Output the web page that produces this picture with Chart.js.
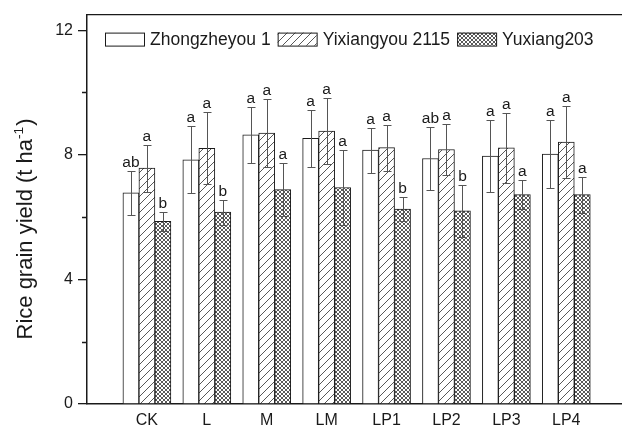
<!DOCTYPE html>
<html>
<head>
<meta charset="utf-8">
<script src="https://cdn.jsdelivr.net/npm/chart.js@4/dist/chart.umd.min.js"></script>
<style>
  html, body { margin: 0; padding: 0; background: #fff; }
  #wrap { width: 622px; height: 429px; }
</style>
</head>
<body>
<div id="wrap"><canvas id="c" width="622" height="429"></canvas></div>
<script>
// Treatments and cultivar yields (t ha-1), mean and standard deviation
const categories = ['CK', 'L', 'M', 'LM', 'LP1', 'LP2', 'LP3', 'LP4'];
const seriesNames = ['Zhongzheyou 1', 'Yixiangyou 2115', 'Yuxiang203'];

const zhongzheyou = [6.78, 7.84, 8.64, 8.53, 8.15, 7.88, 7.96, 8.02];
const zhongzheyouSd = [0.70, 1.07, 0.89, 0.91, 0.72, 1.00, 1.15, 1.10];
const zhongzheyouLetters = ['ab', 'a', 'a', 'a', 'a', 'ab', 'a', 'a'];

const yixiangyou = [7.57, 8.21, 8.70, 8.76, 8.23, 8.17, 8.22, 8.41];
const yixiangyouSd = [0.76, 1.15, 1.10, 1.06, 0.74, 0.82, 1.12, 1.15];
const yixiangyouLetters = ['a', 'a', 'a', 'a', 'a', 'a', 'a', 'a'];

const yuxiang = [5.86, 6.16, 6.88, 6.95, 6.26, 6.20, 6.72, 6.72];
const yuxiangSd = [0.31, 0.40, 0.86, 1.20, 0.37, 0.84, 0.46, 0.58];
const yuxiangLetters = ['b', 'b', 'a', 'a', 'b', 'b', 'a', 'a'];

const yTicks = [0, 4, 8, 12];
const yMinorTicks = [2, 6, 10];

const FONT = '"Liberation Sans", Arial, Helvetica, sans-serif';
const INK = '#1a1a1a';

const canvas = document.getElementById('c');
const ctx = canvas.getContext('2d');

// Fill patterns: plain, diagonal hatch, fine cross-hatch
function hatchPattern() {
  const t = document.createElement('canvas');
  t.width = 8; t.height = 8;
  const g = t.getContext('2d');
  g.fillStyle = '#fff'; g.fillRect(0, 0, 8, 8);
  g.strokeStyle = '#3a3a3a'; g.lineWidth = 0.85;
  g.beginPath();
  g.moveTo(-1, 9); g.lineTo(9, -1);
  g.moveTo(-1, 1); g.lineTo(1, -1);
  g.moveTo(7, 9); g.lineTo(9, 7);
  g.stroke();
  return ctx.createPattern(t, 'repeat');
}
function crossPattern() {
  const t = document.createElement('canvas');
  t.width = 4; t.height = 4;
  const g = t.getContext('2d');
  g.fillStyle = '#fff'; g.fillRect(0, 0, 4, 4);
  g.fillStyle = '#5a5a5a';
  for (let i = 0; i < 4; i++) {
    g.fillRect(i, i, 1, 1);
    g.fillRect(3 - i, i, 1, 1);
  }
  return ctx.createPattern(t, 'repeat');
}

const fills = ['#ffffff', hatchPattern(), crossPattern()];
const means = [zhongzheyou, yixiangyou, yuxiang];
const sds = [zhongzheyouSd, yixiangyouSd, yuxiangSd];
const letters = [zhongzheyouLetters, yixiangyouLetters, yuxiangLetters];

const datasets = seriesNames.map((name, k) => ({
  label: name,
  data: means[k].map((v, i) => ({ x: i + 1, y: v })),
  backgroundColor: fills[k],
  borderColor: INK,
  borderWidth: 1,
  borderSkipped: 'start',
  barThickness: 16
}));

// Error bars with significance letters on top of each bar
const errorBars = {
  id: 'errorBars',
  afterDatasetsDraw(chart) {
    const y = chart.scales.y;
    const c = chart.ctx;
    c.save();
    chart.data.datasets.forEach((ds, k) => {
      const meta = chart.getDatasetMeta(k);
      meta.data.forEach((bar, i) => {
        const m = means[k][i], s = sds[k][i];
        const yt = Math.round(y.getPixelForValue(m + s)) + 0.5;
        const yb = Math.round(y.getPixelForValue(m - s)) + 0.5;
        const x = Math.round(bar.x) + 0.5;
        c.strokeStyle = '#555';
        c.lineWidth = 1;
        c.beginPath();
        c.moveTo(x, yt); c.lineTo(x, yb);
        c.moveTo(x - 4, yt); c.lineTo(x + 4, yt);
        c.moveTo(x - 4, yb); c.lineTo(x + 4, yb);
        c.stroke();
        c.fillStyle = INK;
        c.font = '15.5px ' + FONT;
        c.textAlign = 'center';
        c.textBaseline = 'alphabetic';
        c.fillText(letters[k][i], bar.x, yt - 5);
      });
    });
    c.restore();
  }
};

// Frame, minor ticks, legend and rotated axis title
const decorations = {
  id: 'decorations',
  afterDraw(chart) {
    const c = chart.ctx;
    const a = chart.chartArea;
    const y = chart.scales.y;
    c.save();
    c.strokeStyle = INK;
    c.lineWidth = 1.3;
    c.beginPath();
    c.moveTo(a.left, a.top); c.lineTo(chart.width, a.top);
    yMinorTicks.forEach(v => {
      const py = Math.round(y.getPixelForValue(v)) + 0.5;
      c.moveTo(a.left - 5, py); c.lineTo(a.left, py);
    });
    c.stroke();

    // legend
    c.font = '17.5px ' + FONT;
    c.textBaseline = 'middle';
    c.textAlign = 'left';
    let lx = a.left + 18;
    const ly = a.top + 18;
    const bw = 39, bh = 13;
    seriesNames.forEach((name, k) => {
      c.fillStyle = fills[k];
      c.fillRect(lx, ly, bw, bh);
      c.lineWidth = 1;
      c.strokeStyle = INK;
      c.strokeRect(lx + 0.5, ly + 0.5, bw, bh);
      c.fillStyle = INK;
      c.fillText(name, lx + bw + 6, ly + bh / 2 + 1);
      lx += bw + 6 + c.measureText(name).width + 7;
    });

    // y-axis title with superscript
    const main = 'Rice grain yield (t ha';
    const sup = '-1';
    const tail = ')';
    const fs = 22;
    c.font = fs + 'px ' + FONT;
    const w1 = c.measureText(main).width;
    const w3 = c.measureText(tail).width;
    c.font = (fs * 0.62) + 'px ' + FONT;
    const w2 = c.measureText(sup).width;
    const total = w1 + w2 + w3 + 1;
    c.translate(32, 229);
    c.rotate(-Math.PI / 2);
    c.textBaseline = 'alphabetic';
    c.fillStyle = INK;
    let tx = -total / 2;
    c.font = fs + 'px ' + FONT;
    c.fillText(main, tx, 0);
    tx += w1;
    c.font = (fs * 0.62) + 'px ' + FONT;
    c.fillText(sup, tx, -fs * 0.42);
    tx += w2 + 1;
    c.font = fs + 'px ' + FONT;
    c.fillText(tail, tx, 0);
    c.restore();
  }
};

new Chart(ctx, {
  type: 'bar',
  data: { datasets },
  options: {
    responsive: false,
    animation: false,
    devicePixelRatio: 1,
    layout: { padding: { top: 9, right: 0, bottom: 0, left: 0 } },
    plugins: { legend: { display: false }, tooltip: { enabled: false } },
    scales: {
      x: {
        type: 'linear',
        min: 0,
        max: 8.93,
        offset: false,
        grid: { display: false, drawTicks: false },
        border: { display: true, color: INK, width: 1.5 },
        ticks: {
          includeBounds: false,
          font: { family: FONT, size: 16 },
          color: INK,
          padding: 7,
          maxRotation: 0,
          autoSkip: false,
          callback: (v, i) => categories[i]
        },
        afterBuildTicks: s => { s.ticks = categories.map((_, i) => ({ value: i + 1 })); },
        afterFit: s => { s.height = 25; }
      },
      y: {
        min: 0,
        max: 12.5,
        grid: { drawOnChartArea: false, drawTicks: true, tickLength: 9, color: INK, lineWidth: 1.3 },
        border: { display: true, color: INK, width: 1.5 },
        ticks: {
          includeBounds: false,
          font: { family: FONT, size: 16 },
          color: INK,
          padding: 5
        },
        afterBuildTicks: s => { s.ticks = yTicks.map(v => ({ value: v })); },
        afterFit: s => { s.width = 87; }
      }
    }
  },
  plugins: [errorBars, decorations]
});
</script>
</body>
</html>
